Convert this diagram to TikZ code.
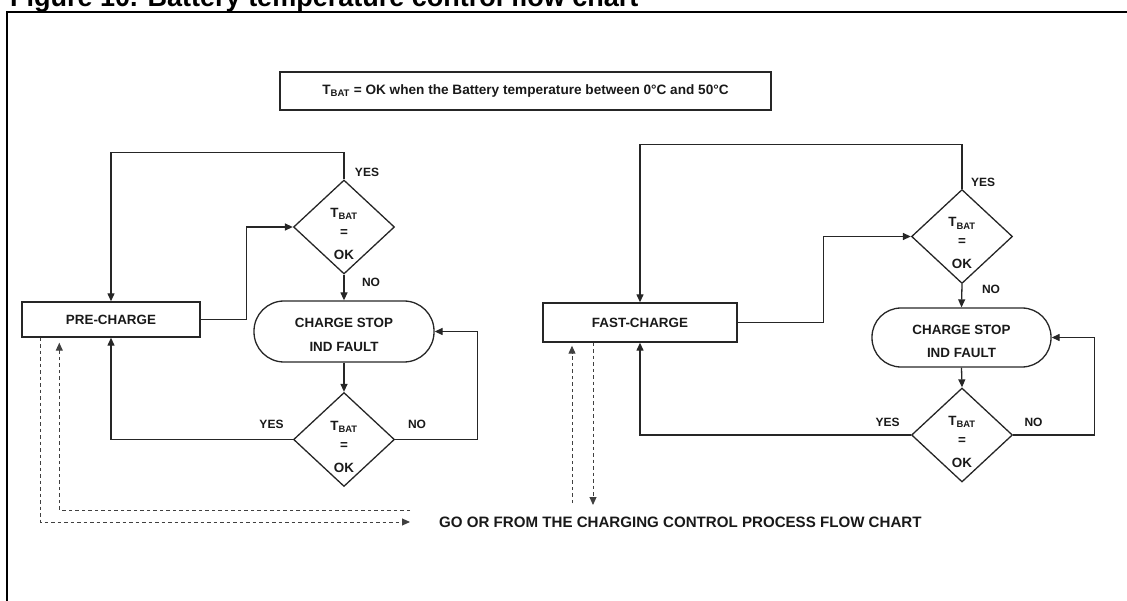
\documentclass[tikz,border=0pt]{standalone}
\usepackage{fontspec}
\setmainfont{Liberation Sans}
\usetikzlibrary{arrows.meta,shapes.geometric,calc}
\begin{document}
\begin{tikzpicture}[x=1pt,y=-1pt,
  line/.style={draw=black!85, line width=1.3pt},
  arr/.style={line, -{Triangle[length=8pt,width=7pt]}},
  dshline/.style={draw=black!75, line width=1pt, dash pattern=on 3.5pt off 3pt},
  dsharr/.style={dshline, -{Triangle[length=8pt,width=7pt]}},
  txt/.style={font=\bfseries\fontsize{13.4}{23.5}\selectfont, inner sep=0pt, text=black!90},
  box/.style={txt, draw=black!85, line width=1.4pt, rectangle},
  stad/.style={draw=black!85, line width=1.3pt, rectangle, inner sep=0pt},
  dia/.style={draw=black!85, line width=1.3pt, diamond, minimum width=101pt, minimum height=94pt, inner sep=0pt},
  dt/.style={txt, anchor=base},
  lbl/.style={font=\bfseries\fontsize{12}{14}\selectfont, inner sep=0pt, text=black!90},
]
\useasboundingbox (0,0) rectangle (1127,601);
\clip (0,0) rectangle (1127,601);

% frame and title
\draw[line width=2pt] (6.5,12) rectangle (1150,640);
\node[anchor=base west, font=\bfseries\fontsize{27}{30}\selectfont, inner sep=0pt] (title) at (10,7) {Figure 10. Battery temperature control flow chart};

% note
\node[box, minimum width=491pt, minimum height=38pt, font=\bfseries\fontsize{13.6}{16}\selectfont] (note) at (525.5,91) {T\textsubscript{BAT} = OK when the Battery temperature between 0°C and 50°C};

% ---------- left part ----------
\node[box, minimum width=178pt, minimum height=35pt] (pre) at (111,319.5) {PRE-CHARGE};
\node[dia] (dL1) at (344,227) {};
\node[dt] (dL1a) at (344,217.5) {T\textsubscript{BAT}};
\node[dt] (dL1b) at (344,236.5) {=};
\node[dt] (dL1c) at (344,259.5) {OK};
\node[stad, minimum width=180pt, minimum height=61pt, rounded corners=30pt] (stopL) at (344,331.5) {};
\node[txt, align=center] (stopLt) at (344,335) {CHARGE STOP\\IND FAULT};
\node[dia] (dL2) at (344,439.5) {};
\node[dt] (dL2a) at (344,430) {T\textsubscript{BAT}};
\node[dt] (dL2b) at (344,449) {=};
\node[dt] (dL2c) at (344,472) {OK};

\node[lbl] (yesL1) at (367,172) {YES};
\node[lbl] (noL1) at (371,282) {NO};
\node[lbl] (yesL2) at (271.5,424) {YES};
\node[lbl] (noL2) at (417,424) {NO};

\draw[arr] (dL1.north) -- ++(0,-27) -| (pre.north);
\draw[arr] (pre.east) -- ++(46,0) |- (dL1.west);
\draw[arr] (dL1.south) -- (stopL.north);
\draw[arr] (stopL.south) -- (dL2.north);
\draw[arr] (dL2.west) -| (pre.south);
\draw[arr] (dL2.east) -- ++(82.5,0) |- (stopL.east);

% ---------- right part ----------
\node[box, minimum width=194pt, minimum height=39pt] (fast) at (640,322.5) {FAST-CHARGE};
\node[dia] (dR1) at (962,236.5) {};
\node[dt] (dR1a) at (962,227) {T\textsubscript{BAT}};
\node[dt] (dR1b) at (962,246) {=};
\node[dt] (dR1c) at (962,269) {OK};
\node[stad, minimum width=179pt, minimum height=59pt, rounded corners=29pt] (stopR) at (961.5,337.5) {};
\node[txt, align=center] (stopRt) at (961.5,341.5) {CHARGE STOP\\IND FAULT};
\node[dia] (dR2) at (962,435) {};
\node[dt] (dR2a) at (962,425.5) {T\textsubscript{BAT}};
\node[dt] (dR2b) at (962,444.5) {=};
\node[dt] (dR2c) at (962,467.5) {OK};

\node[lbl] (yesR1) at (983,182) {YES};
\node[lbl] (noR1) at (991,289) {NO};
\node[lbl] (yesR2) at (887.5,422) {YES};
\node[lbl] (noR2) at (1033.5,422) {NO};

\draw[arr] (dR1.north) -- ++(0,-44) -| (fast.north);
\draw[arr] (fast.east) -- ++(86,0) |- (dR1.west);
\draw[arr] (dR1.south) -- (stopR.north);
\draw[arr] (stopR.south) -- (dR2.north);
\draw[arr] (dR2.west) -| (fast.south);
\draw[arr] (dR2.east) -- ++(81,0) |- (stopR.east);

% ---------- bottom link ----------
\node[font=\bfseries\fontsize{15.1}{17}\selectfont, anchor=west, inner sep=0pt, text=black!90] (go) at (439,522) {GO OR FROM THE CHARGING CONTROL PROCESS FLOW CHART};
\coordinate (gA) at ($(go.west)+(-29,0)$);
\coordinate (gB) at ($(go.west)+(-29,-12)$);
\coordinate (fdn) at (593,505);
\coordinate (fup) at (572,503);

\draw[dsharr] ($(pre.south west)+(19,0)$) |- (gA);
\draw[dsharr] (gB) -| ($(pre.south west)+(38,5)$);
\draw[dsharr] (fast.south west -| fdn) -- (fdn);
\draw[dsharr] (fup) -- ($(fast.south west -| fup)+(0,3)$);
\end{tikzpicture}
\end{document}
